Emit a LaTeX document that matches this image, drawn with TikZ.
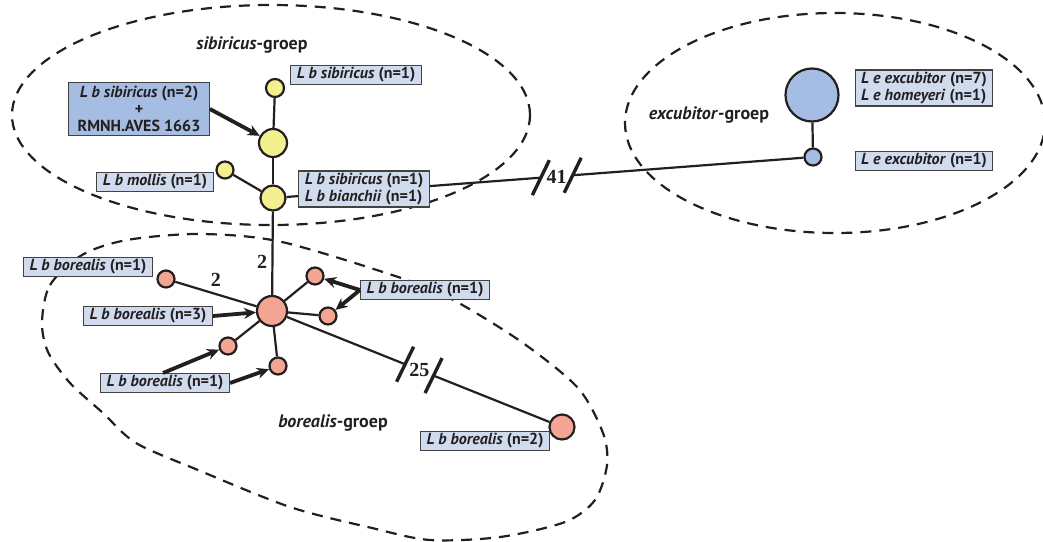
\documentclass[tikz,border=0pt]{standalone}
\usepackage{fontspec}
\setmainfont{PT Sans}
\newfontfamily\numfont{Liberation Serif}
\usetikzlibrary{arrows.meta,calc,backgrounds}
\definecolor{ink}{HTML}{231F20}
\definecolor{sibfill}{HTML}{F4F08F}
\definecolor{borfill}{HTML}{F5A593}
\definecolor{excfill}{HTML}{A5BDE2}
\definecolor{tagfill}{HTML}{D0DCEE}
\tikzset{
  hap/.style={circle, draw=ink, line width=2.2pt, inner sep=0pt},
  sib/.style={hap, fill=sibfill},
  bor/.style={hap, fill=borfill},
  exc/.style={hap, fill=excfill},
  tag/.style={rectangle, draw=ink!85, fill=tagfill, line width=1.1pt, inner xsep=6pt, inner ysep=2pt,
              font=\fontsize{16}{17}\selectfont\bfseries, text=ink, align=left},
  link/.style={draw=ink, line width=2.2pt},
  ptr/.style={-{Stealth[length=12pt,width=11pt]}, draw=ink, line width=3.8pt},
  grp/.style={draw=ink, line width=2.2pt, dash pattern=on 11pt off 8pt},
  brk/.style={draw=ink, line width=3.4pt},
  steps/.style={font=\numfont\fontsize{20}{20}\selectfont\bfseries, text=ink},
  grplbl/.style={font=\fontsize{18}{19}\selectfont\bfseries, text=ink}
}
\begin{document}
\begin{tikzpicture}[x=1pt,y=-1pt]
\useasboundingbox (0,0) rectangle (1043,541);
\clip (0,0) rectangle (1043,541);

% haplotypes
\node[sib, minimum size=18pt] (s1) at (275,88) {};
\node[sib, minimum size=28pt] (s2) at (273,143) {};
\node[sib, minimum size=17pt] (s3) at (225,170) {};
\node[sib, minimum size=25pt] (s4) at (273,198) {};

\node[bor, minimum size=30pt] (b0) at (272,311) {};
\node[bor, minimum size=17pt] (b1) at (166,279) {};
\node[bor, minimum size=17pt] (b2) at (315,276) {};
\node[bor, minimum size=17pt] (b3) at (328,316) {};
\node[bor, minimum size=17pt] (b4) at (228,346) {};
\node[bor, minimum size=17pt] (b5) at (278,366) {};
\node[bor, minimum size=25pt] (b6) at (562,427) {};

\node[exc, minimum size=53pt] (e1) at (812,95) {};
\node[exc, minimum size=17pt] (e2) at (813,157) {};

% labels
\node[tag] (lsib1) at (356,75) {\textit{L b sibiricus} (n=1)};
\node[tag, fill=excfill, align=center, inner xsep=9pt, inner ysep=4pt] (lsib2) at (139,109)
  {\textit{L b sibiricus} (n=2)\\+\\RMNH.AVES 1663};
\node[tag] (lmol) at (155,182) {\textit{L b mollis} (n=1)};
\node[tag] (lsibbi) at (364,189) {\textit{L b sibiricus} (n=1)\\\textit{L b bianchii} (n=1)};

\node[tag] (lbor1a) at (88,267) {\textit{L b borealis} (n=1)};
\node[tag] (lbor3) at (148,316) {\textit{L b borealis} (n=3)};
\node[tag] (lbor1b) at (425,290) {\textit{L b borealis} (n=1)};
\node[tag] (lbor1c) at (165,383) {\textit{L b borealis} (n=1)};
\node[tag] (lbor2) at (485,441) {\textit{L b borealis} (n=2)};

\node[tag] (lexc7) at (924,88) {\textit{L e excubitor} (n=7)\\\textit{L e homeyeri} (n=1)};
\node[tag] (lexc1) at (924,161) {\textit{L e excubitor} (n=1)};

\node[grplbl] (gsib) at (252,45) {\textit{sibiricus}-groep};
\node[grplbl] (gexc) at (709,115) {\textit{excubitor}-groep};
\node[grplbl] (gbor) at (333,423) {\textit{borealis}-groep};

\begin{pgfonlayer}{background}
% groups
\draw[grp] (271,115) ellipse [x radius=259pt, y radius=110pt];
\draw[grp] (835,123) ellipse [x radius=210pt, y radius=110pt];
\draw[grp] plot[smooth cycle] coordinates {(42,322) (50,285) (82,255) (127,240) (200,234)
  (282,242) (407,280) (457,302) (523,343) (578,388) (603,433) (607,465) (595,500) (565,522)
  (500,537) (430,540) (372,528) (290,507) (198,470) (136,443) (103,413) (70,383) (48,352)};

% network
\draw[link] (s1) -- (s2);
\draw[link] (s2) -- (s4);
\draw[link] (s3) -- (s4);
\draw[link] (s4) -- node[steps, pos=0.6, left=1pt] {2} (b0);
\draw[link] (b1) -- node[steps, pos=0.5, above=3pt] {2} (b0);
\draw[link] (b0) -- (b2);
\draw[link] (b0) -- (b3);
\draw[link] (b0) -- (b4);
\draw[link] (b0) -- (b5);
\draw[link] (e1) -- (e2);

% long branches with breaks
\draw[link] (b0) -- ($(b0)!0.459!(b6)$);
\draw[link] ($(b0)!0.557!(b6)$) -- (b6);
\draw[brk] ($(b0)!0.459!(b6)$) ++(-8.5,17.5) -- ++(17,-35);
\draw[brk] ($(b0)!0.557!(b6)$) ++(-8.5,17.5) -- ++(17,-35);
\node[steps] (n25) at ($(b0)!0.508!(b6)$) {25};

\draw[link] (s4) -- ($(s4)!0.496!(e2)$);
\draw[link] ($(s4)!0.555!(e2)$) -- (e2);
\draw[brk] ($(s4)!0.496!(e2)$) ++(-8.5,17.5) -- ++(17,-35);
\draw[brk] ($(s4)!0.555!(e2)$) ++(-8.5,17.5) -- ++(17,-35);
\node[steps] (n41) at ($(s4)!0.525!(e2)$) {41};
\end{pgfonlayer}

% pointers
\draw[ptr] (lsib2.east) -- (s2);
\draw[ptr] (lbor3.east) -- (b0);
\draw[ptr] (lbor1b.west) -- (b2);
\draw[ptr] (lbor1b.west) -- (b3);
\draw[ptr] ([xshift=-2pt]lbor1c.north) -- (b4);
\draw[ptr] (lbor1c.east) -- (b5);
\end{tikzpicture}
\end{document}
